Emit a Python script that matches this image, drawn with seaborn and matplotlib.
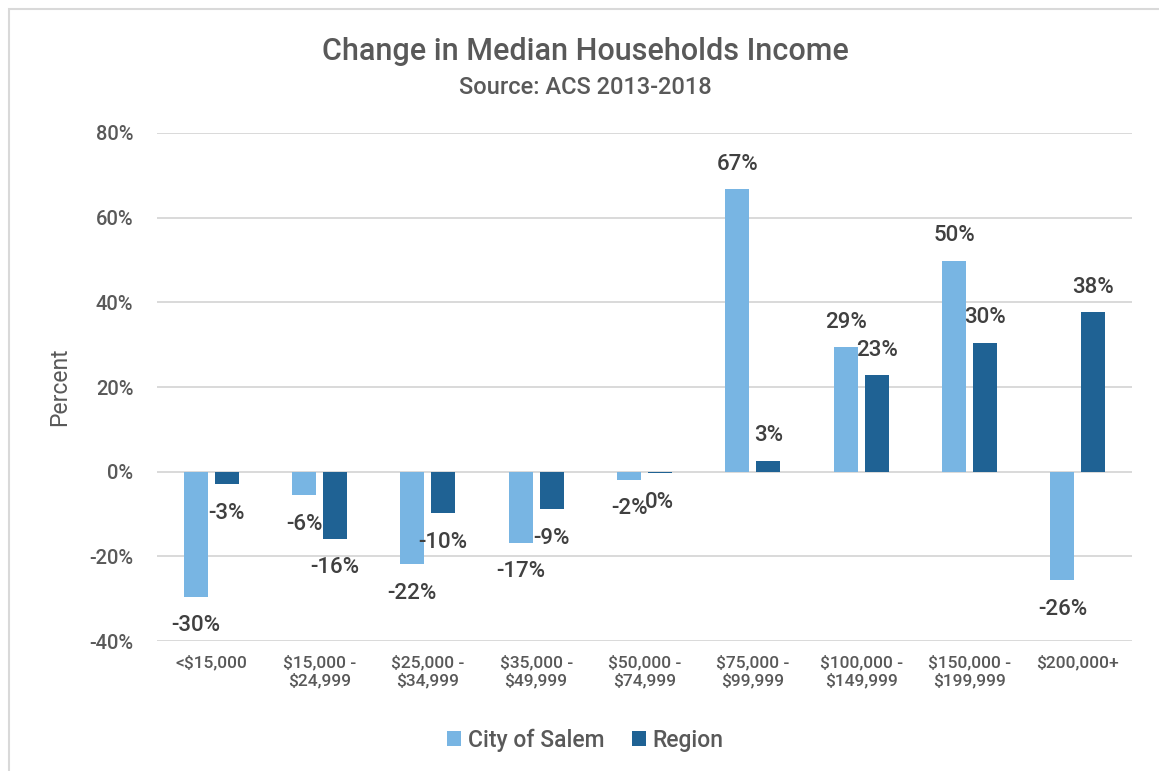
import matplotlib
matplotlib.use("Agg")
import matplotlib.pyplot as plt
import seaborn as sns
import pandas as pd
from matplotlib.patches import Rectangle
from matplotlib.ticker import FuncFormatter

# Data (percent change 2013-2018)
brackets = [
    "<$15,000",
    "$15,000 -\n$24,999",
    "$25,000 -\n$34,999",
    "$35,000 -\n$49,999",
    "$50,000 -\n$74,999",
    "$75,000 -\n$99,999",
    "$100,000 -\n$149,999",
    "$150,000 -\n$199,999",
    "$200,000+",
]
salem = [-29.6, -5.6, -21.9, -16.8, -1.9, 66.7, 29.4, 49.8, -25.6]
region = [-3.0, -15.8, -9.8, -8.9, -0.4, 2.6, 22.8, 30.4, 37.6]
series_names = ["City of Salem", "Region"]
colors = ["#78b5e3", "#1f6294"]

df = pd.DataFrame({
    "bracket": brackets * 2,
    "series": [series_names[0]] * len(brackets) + [series_names[1]] * len(brackets),
    "value": salem + region,
})

sns.set_theme(style="white")
plt.rcParams["font.family"] = ["Roboto", "DejaVu Sans"]
plt.rcParams["font.weight"] = "medium"

text_gray = "#595959"
label_gray = "#404040"

fig = plt.figure(figsize=(11.59, 7.71), dpi=100)
ax = fig.add_axes([157 / 1159, 1 - 641 / 771, 975 / 1159, 508 / 771])

sns.barplot(
    data=df, x="bracket", y="value", hue="series", order=brackets,
    hue_order=series_names, palette=colors, saturation=1,
    width=0.57, gap=0.225, linewidth=0, ax=ax,
)

ax.set_ylim(-40, 80)
ax.set_yticks(range(-40, 81, 20))
ax.yaxis.set_major_formatter(FuncFormatter(lambda v, p: f"{v:.0f}%"))
ax.yaxis.grid(True, color="#d9d9d9", linewidth=1.4)
ax.set_axisbelow(True)
for s in ax.spines.values():
    s.set_visible(False)

ax.tick_params(axis="y", length=0, pad=17, labelsize=14.5, labelcolor=text_gray)
ax.tick_params(axis="x", length=0, pad=10, labelsize=12.5, labelcolor=text_gray)
ax.set_xlabel("")
ax.set_ylabel("Percent", fontsize=16.5, color=text_gray)
ax.yaxis.set_label_coords(-0.088, 0.5)

# value labels above / below each bar
for container in ax.containers:
    for bar, v in zip(container, container.datavalues):
        x = bar.get_x() + bar.get_width() / 2
        off = 25 if v >= 0 else -29
        ax.annotate(f"{round(v):d}%", (x, v), xytext=(0, off),
                    textcoords="offset pixels", ha="center", va="center",
                    fontsize=16, color=label_gray)

fig.text(0.505, 1 - 51 / 771, "Change in Median Households Income",
         ha="center", va="center", fontsize=22, color=text_gray)
fig.text(0.505, 1 - 87 / 771, "Source: ACS 2013-2018",
         ha="center", va="center", fontsize=17, color=text_gray)

handles, labels = ax.get_legend_handles_labels()
ax.legend(handles, labels, loc="center", bbox_to_anchor=(0.505, 1 - 740 / 771),
          bbox_transform=fig.transFigure, ncol=2, frameon=False, fontsize=16.5,
          handlelength=0.6, handleheight=0.6, handletextpad=0.3,
          columnspacing=1.2, labelcolor=text_gray)

fig.patches.append(Rectangle((9 / 1159, -0.1), 1.1, 1.1 - 9 / 771,
                             transform=fig.transFigure, fill=False,
                             edgecolor="#d9d9d9", linewidth=1.5))

fig.savefig("out.png", dpi=100)
